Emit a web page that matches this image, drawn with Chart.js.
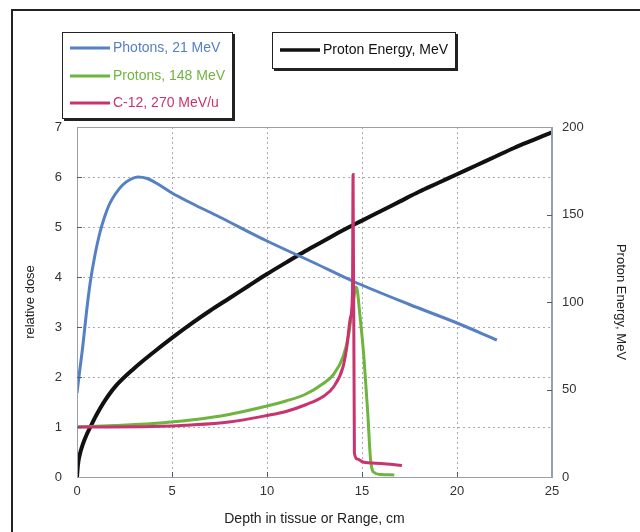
<!DOCTYPE html>
<html>
<head>
<meta charset="utf-8">
<script src="https://cdn.jsdelivr.net/npm/chart.js@4.4.1/dist/chart.umd.min.js"></script>
<style>
  body { margin: 0; background: #fff; }
  canvas { display: block; }
</style>
</head>
<body>
<canvas id="doseChart" width="640" height="532"></canvas>
<script>
// depth-dose curves
const photonDepth = [0, 0.15, 0.3, 0.5, 0.7, 0.95, 1.2, 1.45, 1.7, 2.0, 2.4, 2.8, 3.2, 3.7, 4.3, 5, 6, 7.5, 10, 12.5, 14.5, 17.5, 20, 22.1];
const photonDose = [1.68, 2.15, 2.6, 3.3, 3.9, 4.45, 4.88, 5.2, 5.45, 5.65, 5.84, 5.95, 6.0, 5.97, 5.85, 5.68, 5.48, 5.2, 4.72, 4.28, 3.92, 3.45, 3.08, 2.74];

const protonDepth = [0, 2, 4, 6, 8, 10, 11, 12, 13, 13.5, 14, 14.3, 14.5, 14.7, 14.9, 15.1, 15.3, 15.45, 15.6, 16, 16.7];
const protonDose = [1.0, 1.03, 1.07, 1.14, 1.25, 1.42, 1.52, 1.65, 1.88, 2.05, 2.4, 2.85, 3.4, 3.8, 3.2, 2.4, 1.3, 0.35, 0.1, 0.05, 0.04];

const carbonDepth = [0, 4, 6, 8, 10, 11, 12, 13, 13.5, 14, 14.2, 14.4, 14.5, 14.53, 14.6, 14.75, 15.05, 16, 17.1];
const carbonDose = [1.0, 1.01, 1.04, 1.1, 1.23, 1.31, 1.44, 1.62, 1.8, 2.2, 2.6, 3.2, 3.7, 6.05, 0.48, 0.36, 0.3, 0.27, 0.23];

const energyDepth = [0, 0.05, 0.15, 0.3, 0.5, 0.7, 1.0, 1.4, 2, 3, 4, 5, 6, 7, 8, 9, 10, 11, 12, 13, 14, 15, 16, 17, 18, 19, 20, 21, 22, 23, 24, 25];
const energyMeV = [0, 7, 13, 18.5, 24, 28.5, 35, 42.5, 51.5, 62, 71, 79.5, 87.5, 95, 102, 109, 116, 122.5, 129, 135, 141, 146.5, 152, 157.5, 163, 168, 173, 178, 183, 188, 192.5, 197];

const doseNames = ['Photons, 21 MeV', 'Protons, 148 MeV', 'C-12, 270 MeV/u'];
const energyName = 'Proton Energy, MeV';

const depthTicks = [0, 5, 10, 15, 20, 25];
const doseTicks = [0, 1, 2, 3, 4, 5, 6, 7];
const energyTicks = [0, 50, 100, 150, 200];

const BLUE = '#5580c4';
const GREEN = '#6fb43f';
const RED = '#c9336f';
const FONT = 'Liberation Sans, Arial, sans-serif';

function pts(xs, ys) {
    return xs.map((x, i) => ({ x: x, y: ys[i] }));
}

function setTicks(values) {
    return function (scale) {
        scale.ticks = values.map(v => ({ value: v }));
    };
}

// frame, legend boxes, plot border and small tick marks
const decorations = {
    id: 'decorations',
    afterDraw(chart) {
        const c = chart.ctx;
        const a = chart.chartArea;
        const xs = chart.scales.x, ys = chart.scales.y, y1 = chart.scales.y1;
        c.save();

        // plot box
        c.strokeStyle = '#9a9eb4';
        c.lineWidth = 1;
        c.strokeRect(a.left + 0.5, a.top + 0.5, a.right - a.left - 1, a.bottom - a.top);

        // inner tick marks
        c.strokeStyle = '#555a70';
        c.beginPath();
        depthTicks.slice(1, -1).forEach(v => {
            const px = Math.round(xs.getPixelForValue(v)) + 0.5;
            c.moveTo(px, a.bottom); c.lineTo(px, a.bottom - 5);
        });
        doseTicks.slice(1, -1).forEach(v => {
            const py = Math.round(ys.getPixelForValue(v)) + 0.5;
            c.moveTo(a.left, py); c.lineTo(a.left + 5, py);
        });
        energyTicks.slice(1, -1).forEach(v => {
            const py = Math.round(y1.getPixelForValue(v)) + 0.5;
            c.moveTo(a.right, py); c.lineTo(a.right - 5, py);
        });
        c.stroke();

        // outer frame
        c.strokeStyle = '#222';
        c.lineWidth = 2;
        c.beginPath();
        c.moveTo(640, 10); c.lineTo(12, 10); c.lineTo(12, 532);
        c.stroke();

        function box(l, t, r, b) {
            c.fillStyle = '#fff';
            c.fillRect(l, t, r - l, b - t);
            c.strokeStyle = '#222';
            c.lineWidth = 1;
            c.strokeRect(l + 0.5, t + 0.5, r - l, b - t);
            c.fillStyle = '#222';
            c.fillRect(r, t + 2, 3, b - t + 1);
            c.fillRect(l + 2, b, r - l + 1, 3);
        }

        function entry(x, y, color, text, width) {
            c.strokeStyle = color;
            c.lineWidth = width;
            c.beginPath();
            c.moveTo(x, y); c.lineTo(x + 40, y);
            c.stroke();
            c.fillStyle = color;
            c.font = '14px ' + FONT;
            c.textBaseline = 'middle';
            c.textAlign = 'left';
            c.fillText(text, x + 43, y);
        }

        box(62, 32, 232, 118);
        entry(70, 48, BLUE, doseNames[0], 3);
        entry(70, 76, GREEN, doseNames[1], 3);
        entry(70, 103, RED, doseNames[2], 3);

        box(272, 32, 455, 68);
        entry(280, 50, '#111', energyName, 3.5);

        c.restore();
    }
};

const ctx = document.getElementById('doseChart').getContext('2d');

const doseChart = new Chart(ctx, {
    type: 'scatter',
    data: {
        datasets: [
            {
                label: doseNames[2],
                data: pts(carbonDepth, carbonDose),
                borderColor: RED,
                borderWidth: 3,
                yAxisID: 'y',
                order: 1
            },
            {
                label: doseNames[1],
                data: pts(protonDepth, protonDose),
                borderColor: GREEN,
                borderWidth: 3,
                yAxisID: 'y',
                order: 2
            },
            {
                label: doseNames[0],
                data: pts(photonDepth, photonDose),
                borderColor: BLUE,
                borderWidth: 3,
                yAxisID: 'y',
                order: 3
            },
            {
                label: energyName,
                data: pts(energyDepth, energyMeV),
                borderColor: '#111',
                borderWidth: 4,
                yAxisID: 'y1',
                order: 4
            }
        ]
    },
    options: {
        responsive: false,
        animation: false,
        devicePixelRatio: 1,
        showLine: true,
        datasets: {
            scatter: {
                pointRadius: 0,
                cubicInterpolationMode: 'monotone',
                fill: false
            }
        },
        layout: { padding: { top: 127, left: 0, right: 0, bottom: 0 } },
        plugins: {
            legend: { display: false },
            tooltip: { enabled: false }
        },
        scales: {
            x: {
                type: 'linear',
                min: 0,
                max: 25,
                afterBuildTicks: setTicks(depthTicks),
                afterFit: s => { s.height = 55; },
                grid: {
                    color: ctx => (ctx.tick && ctx.tick.value > 0 && ctx.tick.value < 25) ? 'rgba(140,140,150,0.75)' : 'rgba(0,0,0,0)',
                    drawTicks: false
                },
                border: { color: '#9a9eb4', dash: [2, 3] },
                ticks: { padding: 7, color: '#333', font: { family: FONT, size: 13 } },
                title: {
                    display: true,
                    text: 'Depth in tissue or Range, cm',
                    color: '#222',
                    font: { family: FONT, size: 14 },
                    padding: { top: 0, bottom: 4 }
                }
            },
            y: {
                type: 'linear',
                position: 'left',
                min: 0,
                max: 7,
                afterBuildTicks: setTicks(doseTicks),
                afterFit: s => { s.width = 77; },
                grid: {
                    color: ctx => (ctx.tick && ctx.tick.value > 0 && ctx.tick.value < 7) ? 'rgba(140,140,150,0.75)' : 'rgba(0,0,0,0)',
                    drawTicks: false
                },
                border: { color: '#9a9eb4', dash: [2, 3] },
                ticks: { padding: 15, color: '#333', font: { family: FONT, size: 13 } },
                title: {
                    display: true,
                    text: 'relative dose',
                    color: '#222',
                    font: { family: FONT, size: 13 },
                    padding: { top: 23, bottom: 0 }
                }
            },
            y1: {
                type: 'linear',
                position: 'right',
                min: 0,
                max: 200,
                afterBuildTicks: setTicks(energyTicks),
                afterFit: s => { s.width = 88; },
                grid: { display: false, drawTicks: false },
                border: { color: '#9a9eb4' },
                ticks: { padding: 10, color: '#333', font: { family: FONT, size: 13 } },
                title: {
                    display: true,
                    text: 'Proton Energy, MeV',
                    color: '#222',
                    font: { family: FONT, size: 13 },
                    padding: { top: 12, bottom: 0 }
                }
            }
        }
    },
    plugins: [decorations]
});
</script>
</body>
</html>
